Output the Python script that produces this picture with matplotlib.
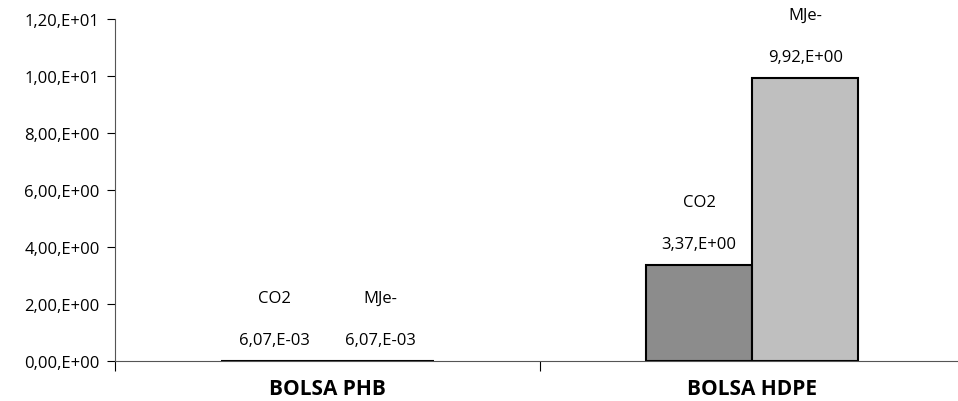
import numpy as np
import matplotlib.pyplot as plt
from matplotlib.ticker import FuncFormatter

plt.rcParams['font.family'] = ['Open Sans', 'DejaVu Sans']

categorias = ['BOLSA PHB', 'BOLSA HDPE']
series = ['CO2', 'MJe-']
valores_co2 = [6.07e-3, 3.37]
valores_mje = [6.07e-3, 9.92]
etiquetas_co2 = ['6,07,E-03', '3,37,E+00']
etiquetas_mje = ['6,07,E-03', '9,92,E+00']
colores = ['#8c8c8c', '#bfbfbf']


def sci_coma(v, pos):
    s = '%.2E' % v            # e.g. 1.20E+01
    mant, exp = s.split('E')
    return mant.replace('.', ',') + ',E' + exp[0] + exp[1:].zfill(2)


fig = plt.figure(figsize=(9.58, 4.02), dpi=100)
ax = fig.add_axes([0.12, 0.0995, 0.887, 0.8507])

x = np.arange(len(categorias))
w = 0.25
datos = [valores_co2, valores_mje]
etiq = [etiquetas_co2, etiquetas_mje]
for k in range(2):
    xs = x + (k - 0.5) * w
    ax.bar(xs, datos[k], width=w, color=colores[k], edgecolor='black', linewidth=1.5)
    for i in range(len(x)):
        ax.annotate(etiq[k][i], (xs[i], datos[k][i]), xytext=(0, 21),
                    textcoords='offset pixels', ha='center', va='center', fontsize=12)
        ax.annotate(series[k], (xs[i], datos[k][i]), xytext=(0, 63),
                    textcoords='offset pixels', ha='center', va='center', fontsize=12)

ax.set_xlim(-0.5, 1.5)
ax.set_ylim(0, 12)
ax.set_yticks(np.arange(0, 12.1, 2))
ax.yaxis.set_major_formatter(FuncFormatter(sci_coma))
ax.tick_params(axis='y', labelsize=12, length=6, direction='out', pad=5)

ax.set_xticks([-0.5, 0.5, 1.5])
ax.set_xticklabels([])
ax.set_xticks(x, minor=True)
ax.set_xticklabels(categorias, minor=True, fontweight='bold', fontsize=15)
ax.tick_params(axis='x', which='major', length=7)
ax.tick_params(axis='x', which='minor', length=0, pad=12)

ax.spines['top'].set_visible(False)
ax.spines['right'].set_visible(False)
ax.spines['left'].set_color('#555555')
ax.spines['bottom'].set_color('#555555')

fig.savefig('out.png', dpi=100)
